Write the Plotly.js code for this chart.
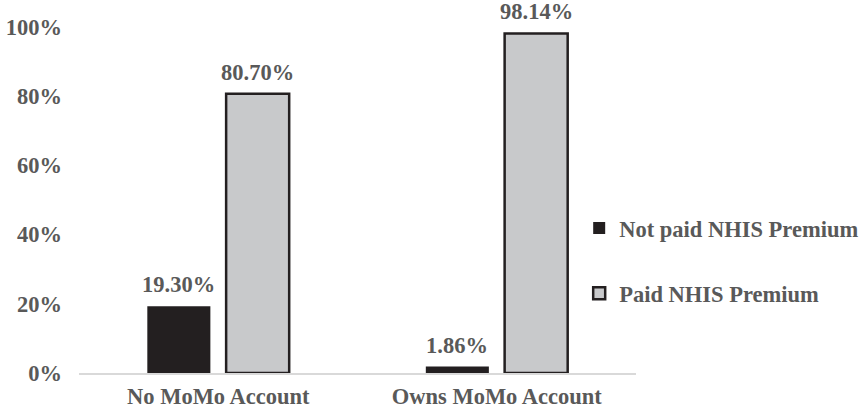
<!DOCTYPE html>
<html>
<head>
<meta charset="utf-8">
<script src="https://cdn.plot.ly/plotly-3.0.1.min.js"></script>
<style>html,body{margin:0;padding:0;background:#fff;}#chart{width:864px;height:410px;}</style>
</head>
<body>
<div id="chart"></div>
<script>
const categories = ["No MoMo Account", "Owns MoMo Account"];
const notPaid = [19.30, 1.86];
const paid = [80.70, 98.14];
const seriesNames = ["Not paid NHIS Premium", "Paid NHIS Premium"];

const textColor = "#595959";
const fontFam = "Liberation Serif";
const fsize = 22.5;
const bargap = 0.434;

const traces = [
  {
    type: "bar", x: categories, y: notPaid, name: seriesNames[0],
    marker: {color: "#231f20", line: {color: "#231f20", width: 0}},
    legendgroup: "a", hoverinfo: "skip"
  },
  {
    type: "bar", x: categories, y: paid, name: seriesNames[1],
    marker: {color: "#c8c9cb", line: {color: "#231f20", width: 2.5}},
    legendgroup: "b", hoverinfo: "skip"
  }
];

const off = (1 - bargap) / 4;
const annotations = [];
[notPaid, paid].forEach((vals, s) => {
  vals.forEach((v, i) => {
    annotations.push({
      x: i + (s === 0 ? -off : off), y: v, xref: "x", yref: "y",
      text: v.toFixed(2) + "%", showarrow: false, yanchor: "bottom",
      yshift: 7,
      font: {family: fontFam, size: fsize, color: textColor, weight: "bold"}
    });
  });
});

const layout = {
  width: 864, height: 410,
  margin: {l: 79, r: 228, t: 27, b: 37, autoexpand: false},
  paper_bgcolor: "#fff", plot_bgcolor: "#fff",
  font: {family: fontFam},
  barmode: "group", bargap: bargap, bargroupgap: 0.2,
  showlegend: true,
  legend: {
    x: 0.898, xanchor: "left", y: 0.324, yanchor: "middle",
    bgcolor: "rgba(0,0,0,0)",
    traceorder: "grouped", tracegroupgap: 33,
    font: {family: fontFam, size: fsize, color: textColor, weight: "bold"}
  },
  xaxis: {
    type: "category", showline: true, linecolor: "#d9d9d9", linewidth: 2,
    showgrid: false, zeroline: false, ticks: "",
    ticklabelstandoff: 2,
    tickfont: {family: fontFam, size: fsize, color: textColor, weight: "bold"}
  },
  yaxis: {
    range: [0, 100], dtick: 20, ticksuffix: "%",
    showline: false, showgrid: false, zeroline: false, ticks: "",
    ticklabelstandoff: 16,
    tickfont: {family: fontFam, size: fsize, color: textColor, weight: "bold"}
  },
  annotations: annotations
};

Plotly.newPlot("chart", traces, layout, {displayModeBar: false, staticPlot: true});
</script>
</body>
</html>
